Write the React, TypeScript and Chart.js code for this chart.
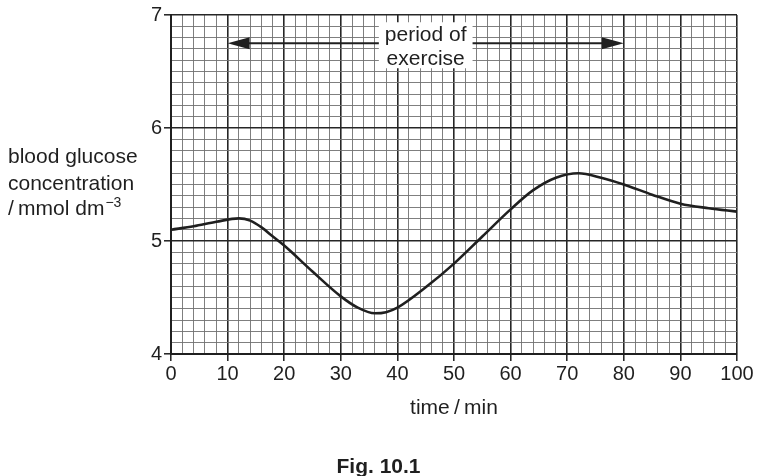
import React, { useEffect, useRef } from 'react';
import { Chart, registerables } from 'chart.js';

Chart.register(...registerables);

// ---- data ----
const timeMin = [0, 4, 8, 12, 14, 16, 18, 20, 25, 30, 33, 36, 38, 40, 45, 50, 55, 60, 64, 68, 72, 76, 80, 85, 90, 95, 100];
const glucose = [5.10, 5.13, 5.17, 5.20, 5.18, 5.12, 5.04, 4.96, 4.73, 4.51, 4.41, 4.36, 4.37, 4.41, 4.59, 4.80, 5.04, 5.28, 5.45, 5.56, 5.60, 5.56, 5.50, 5.41, 5.33, 5.29, 5.26];

const xMin = 0;
const xMax = 100;
const xGridStep = 2;
const xLabelStep = 10;
const yMin = 4;
const yMax = 7;
const yGridStep = 0.1;
const yLabelStep = 1;

const exerciseStart = 10;
const exerciseEnd = 80;
const arrowLevel = 6.75;
const exerciseLabel = ['period of', 'exercise'];
const yTitleLines = ['blood glucose', 'concentration', '/\u2009mmol dm'];
const yTitleSup = '\u22123';
const xTitle = 'time\u2009/\u2009min';
const caption = 'Fig. 10.1';

const FONT = '"Liberation Sans", Arial, Helvetica, sans-serif';
const INK = '#1f1f1f';

const isMult = (v: number, step: number) => Math.abs(v / step - Math.round(v / step)) < 1e-6;

const annotations = {
  id: 'annotations',
  afterDraw(chart: any) {
    const { ctx, chartArea, scales } = chart;
    const x = scales.x;
    const y = scales.y;
    ctx.save();

    // double-headed arrow
    const ay = y.getPixelForValue(arrowLevel);
    const x1 = x.getPixelForValue(exerciseStart);
    const x2 = x.getPixelForValue(exerciseEnd);
    const head = 22;
    const half = 6;
    ctx.strokeStyle = INK;
    ctx.fillStyle = INK;
    ctx.lineWidth = 2.2;
    ctx.beginPath();
    ctx.moveTo(x1 + head - 2, ay);
    ctx.lineTo(x2 - head + 2, ay);
    ctx.stroke();
    ctx.beginPath();
    ctx.moveTo(x1, ay);
    ctx.lineTo(x1 + head, ay - half);
    ctx.lineTo(x1 + head, ay + half);
    ctx.closePath();
    ctx.fill();
    ctx.beginPath();
    ctx.moveTo(x2, ay);
    ctx.lineTo(x2 - head, ay - half);
    ctx.lineTo(x2 - head, ay + half);
    ctx.closePath();
    ctx.fill();

    // label with white box
    const cx = x.getPixelForValue((exerciseStart + exerciseEnd) / 2);
    ctx.font = `21px ${FONT}`;
    const w = Math.max(...exerciseLabel.map((t) => ctx.measureText(t).width)) + 12;
    ctx.fillStyle = '#fff';
    ctx.fillRect(cx - w / 2, ay - 21, w, 46);
    ctx.fillStyle = INK;
    ctx.textAlign = 'center';
    ctx.textBaseline = 'alphabetic';
    ctx.fillText(exerciseLabel[0], cx, ay - 2);
    ctx.fillText(exerciseLabel[1], cx, ay + 22);

    // y-axis title
    const yc = y.getPixelForValue((yMin + yMax) / 2);
    const base = [yc - 22, yc + 5, yc + 30];
    ctx.textAlign = 'left';
    ctx.font = `21px ${FONT}`;
    const left = 8;
    ctx.fillText(yTitleLines[0], left, base[0]);
    ctx.fillText(yTitleLines[1], left, base[1]);
    ctx.fillText(yTitleLines[2], left, base[2]);
    const w3 = ctx.measureText(yTitleLines[2]).width;
    ctx.font = `14px ${FONT}`;
    ctx.fillText(yTitleSup, left + w3 + 1, base[2] - 8);

    // x-axis title
    ctx.font = `21px ${FONT}`;
    ctx.textAlign = 'center';
    ctx.fillText(xTitle, (chartArea.left + chartArea.right) / 2, chartArea.bottom + 60);

    // caption
    ctx.font = `bold 21px ${FONT}`;
    ctx.fillText(caption, chart.width / 2, chart.height - 3);

    ctx.restore();
  },
};

export default function App() {
  const ref = useRef<HTMLCanvasElement | null>(null);

  useEffect(() => {
    if (!ref.current) return;
    const chart = new Chart(ref.current, {
      type: 'line',
      data: {
        datasets: [
          {
            data: timeMin.map((t, i) => ({ x: t, y: glucose[i] })),
            borderColor: INK,
            borderWidth: 2.6,
            pointRadius: 0,
            fill: false,
            cubicInterpolationMode: 'monotone',
          },
        ],
      },
      options: {
        animation: false,
        responsive: true,
        maintainAspectRatio: false,
        layout: { padding: { left: 0, right: 20, top: 15, bottom: 0 } },
        plugins: { legend: { display: false }, tooltip: { enabled: false } },
        scales: {
          x: {
            type: 'linear',
            min: xMin,
            max: xMax,
            afterFit: (s: any) => {
              s.height = 122;
            },
            ticks: {
              stepSize: xGridStep,
              autoSkip: false,
              maxRotation: 0,
              padding: 1,
              color: INK,
              font: { family: FONT, size: 20 },
              callback: (v: any) => (isMult(Number(v), xLabelStep) ? String(Math.round(Number(v))) : ''),
            },
            grid: {
              color: (c: any) => (c.tick && isMult(c.tick.value, xLabelStep) ? '#262626' : '#707070'),
              lineWidth: (c: any) => (c.tick && isMult(c.tick.value, xLabelStep) ? 1.6 : 0.9),
              tickLength: 7,
              tickColor: (c: any) => (c.tick && isMult(c.tick.value, xLabelStep) ? INK : 'rgba(0,0,0,0)'),
              tickWidth: 1.5,
            },
            border: { display: true, color: INK, width: 2 },
          },
          y: {
            type: 'linear',
            min: yMin,
            max: yMax,
            afterFit: (s: any) => {
              s.width = 171;
            },
            ticks: {
              stepSize: yGridStep,
              autoSkip: false,
              padding: 2,
              color: INK,
              font: { family: FONT, size: 20 },
              callback: (v: any) => (isMult(Number(v), yLabelStep) ? String(Math.round(Number(v))) : ''),
            },
            grid: {
              color: (c: any) => (c.tick && isMult(c.tick.value, yLabelStep) ? '#262626' : '#707070'),
              lineWidth: (c: any) => (c.tick && isMult(c.tick.value, yLabelStep) ? 1.6 : 0.9),
              tickLength: 7,
              tickColor: (c: any) => (c.tick && isMult(c.tick.value, yLabelStep) ? INK : 'rgba(0,0,0,0)'),
              tickWidth: 1.5,
            },
            border: { display: true, color: INK, width: 2 },
          },
        },
      },
      plugins: [annotations],
    });
    return () => chart.destroy();
  }, []);

  return (
    <div style={{ position: 'absolute', left: 0, top: 0, width: 757, height: 476, background: '#fff' }}>
      <canvas ref={ref} />
    </div>
  );
}
